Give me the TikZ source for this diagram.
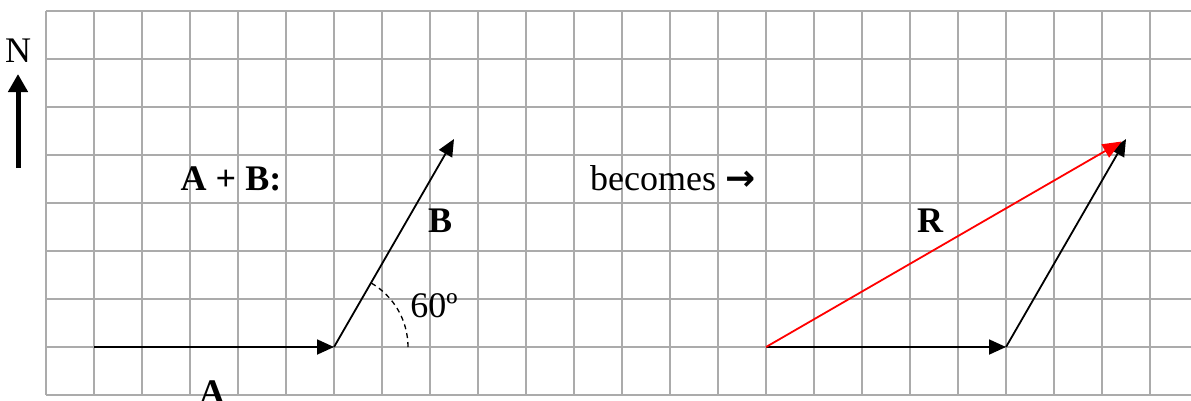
\documentclass[tikz,border=0pt]{standalone}
\usepackage{fontspec}
\setmainfont{Liberation Serif}
\newfontfamily\arrowfont{DejaVu Sans}
\usetikzlibrary{arrows.meta}
\tikzset{
  gridline/.style={draw=black!33, line width=1.6pt},
  vec/.style={draw=black, line width=1.8pt, -{Triangle[length=17pt,width=15pt]}},
  redvec/.style={draw=red, line width=1.8pt, -{Triangle[length=19pt,width=15pt]}},
  lbl/.style={inner sep=0pt, anchor=base, font=\fontsize{36}{40}\selectfont},
  blbl/.style={lbl, font=\fontsize{36}{40}\selectfont\bfseries},
}
\begin{document}
\begin{tikzpicture}[x=1pt,y=-1pt]
\useasboundingbox (0,0) rectangle (1191,400);
% grid
\foreach \k in {0,...,23} { \draw[gridline] ({46+48*\k},11) -- ({46+48*\k},395); }
\foreach \k in {0,...,8} { \draw[gridline] (46,{11+48*\k}) -- (1191,{11+48*\k}); }
% north arrow
\node[lbl] (N) at (18,62) {N};
\coordinate (nbot) at (18,168);
\coordinate (ntop) at (18,74);
\draw[line width=5pt, -{Triangle[length=18pt,width=19pt]}] (nbot) -- (ntop);
% left construction
\coordinate (O1) at (94,347);
\coordinate (P1) at (334,347);
\coordinate (Q1) at (454,139);
\draw[vec] (O1) -- (P1);
\draw[vec] (P1) -- (Q1);
\draw[line width=1.3pt, dash pattern=on 5pt off 4pt] ([shift={(74,0)}]P1) arc[start angle=0, end angle=-60, radius=74];
\node[blbl] (AB) at (231,190) {A + B:};
\node[blbl] (Bl) at (440,232) {B};
\node[blbl] (Al) at (212,404) {A};
\node[lbl] (ang) at (434,317) {60º};
\node[lbl, anchor=base west] (bec) at (590,190) {becomes {\arrowfont\bfseries →}};
% right construction
\coordinate (O2) at (766,347);
\coordinate (P2) at (1006,347);
\coordinate (Q2) at (1126,139);
\draw[vec] (O2) -- (P2);
\draw[vec] (P2) -- (Q2);
\draw[redvec, shorten >=5pt] (O2) -- (Q2);
\node[blbl] (Rl) at (930,232) {R};
\end{tikzpicture}
\end{document}
